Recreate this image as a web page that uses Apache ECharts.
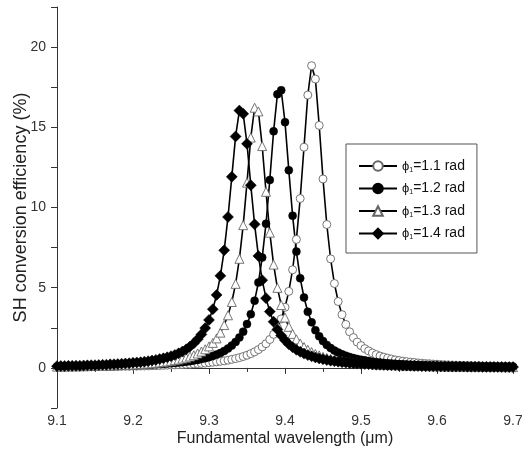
<!DOCTYPE html>
<html>
<head>
<meta charset="utf-8">
<script src="https://cdn.jsdelivr.net/npm/echarts@6/dist/echarts.min.js"></script>
<style>
  html, body { margin: 0; padding: 0; background: #fff; }
  #chart { width: 522px; height: 470px; }
</style>
</head>
<body>
<div id="chart"></div>
<script>
// wavelength samples (um), 0.005 step
var wavelength = [
  9.100, 9.105, 9.110, 9.115, 9.120, 9.125, 9.130, 9.135, 9.140, 9.145,
  9.150, 9.155, 9.160, 9.165, 9.170, 9.175, 9.180, 9.185, 9.190, 9.195,
  9.200, 9.205, 9.210, 9.215, 9.220, 9.225, 9.230, 9.235, 9.240, 9.245,
  9.250, 9.255, 9.260, 9.265, 9.270, 9.275, 9.280, 9.285, 9.290, 9.295,
  9.300, 9.305, 9.310, 9.315, 9.320, 9.325, 9.330, 9.335, 9.340, 9.345,
  9.350, 9.355, 9.360, 9.365, 9.370, 9.375, 9.380, 9.385, 9.390, 9.395,
  9.400, 9.405, 9.410, 9.415, 9.420, 9.425, 9.430, 9.435, 9.440, 9.445,
  9.450, 9.455, 9.460, 9.465, 9.470, 9.475, 9.480, 9.485, 9.490, 9.495,
  9.500, 9.505, 9.510, 9.515, 9.520, 9.525, 9.530, 9.535, 9.540, 9.545,
  9.550, 9.555, 9.560, 9.565, 9.570, 9.575, 9.580, 9.585, 9.590, 9.595,
  9.600, 9.605, 9.610, 9.615, 9.620, 9.625, 9.630, 9.635, 9.640, 9.645,
  9.650, 9.655, 9.660, 9.665, 9.670, 9.675, 9.680, 9.685, 9.690, 9.695, 9.700
];

// SH conversion efficiency (%) for each phi1
var eff11 = [
  0.05, 0.06, 0.06, 0.06, 0.06, 0.06, 0.07, 0.07, 0.07, 0.07,
  0.07, 0.08, 0.08, 0.08, 0.09, 0.09, 0.09, 0.10, 0.10, 0.10,
  0.11, 0.11, 0.12, 0.12, 0.13, 0.14, 0.14, 0.15, 0.16, 0.17,
  0.18, 0.19, 0.20, 0.21, 0.22, 0.23, 0.25, 0.27, 0.28, 0.30,
  0.33, 0.35, 0.38, 0.41, 0.44, 0.48, 0.53, 0.58, 0.64, 0.71,
  0.79, 0.89, 1.00, 1.14, 1.31, 1.51, 1.77, 2.09, 2.51, 3.05,
  3.78, 4.77, 6.12, 8.01, 10.56, 13.76, 17.01, 18.84, 18.01, 15.12,
  11.78, 8.94, 6.80, 5.26, 4.14, 3.32, 2.71, 2.25, 1.89, 1.61,
  1.39, 1.20, 1.06, 0.93, 0.83, 0.74, 0.67, 0.61, 0.55, 0.50,
  0.46, 0.42, 0.39, 0.36, 0.34, 0.31, 0.29, 0.27, 0.26, 0.24,
  0.23, 0.21, 0.20, 0.19, 0.18, 0.17, 0.16, 0.15, 0.15, 0.14,
  0.13, 0.13, 0.12, 0.12, 0.11, 0.11, 0.10, 0.10, 0.09, 0.09, 0.09
];
var eff12 = [
  0.07, 0.07, 0.07, 0.08, 0.08, 0.08, 0.09, 0.09, 0.09, 0.10,
  0.10, 0.11, 0.11, 0.11, 0.12, 0.13, 0.13, 0.14, 0.14, 0.15,
  0.16, 0.17, 0.18, 0.19, 0.20, 0.21, 0.22, 0.24, 0.25, 0.27,
  0.29, 0.31, 0.33, 0.36, 0.39, 0.42, 0.46, 0.50, 0.55, 0.60,
  0.67, 0.74, 0.83, 0.93, 1.06, 1.21, 1.39, 1.62, 1.90, 2.26,
  2.73, 3.35, 4.19, 5.32, 6.88, 8.99, 11.72, 14.75, 17.06, 17.31,
  15.32, 12.32, 9.49, 7.25, 5.59, 4.39, 3.50, 2.84, 2.35, 1.97,
  1.67, 1.43, 1.24, 1.08, 0.96, 0.85, 0.76, 0.68, 0.61, 0.56,
  0.51, 0.47, 0.43, 0.39, 0.36, 0.34, 0.31, 0.29, 0.27, 0.26,
  0.24, 0.23, 0.21, 0.20, 0.19, 0.18, 0.17, 0.16, 0.15, 0.15,
  0.14, 0.13, 0.13, 0.12, 0.12, 0.11, 0.11, 0.10, 0.10, 0.09,
  0.09, 0.09, 0.08, 0.08, 0.08, 0.08, 0.07, 0.07, 0.07, 0.07, 0.06
];
var eff13 = [
  0.08, 0.08, 0.09, 0.09, 0.10, 0.10, 0.10, 0.11, 0.11, 0.12,
  0.12, 0.13, 0.14, 0.14, 0.15, 0.16, 0.17, 0.18, 0.19, 0.20,
  0.21, 0.22, 0.24, 0.26, 0.27, 0.29, 0.32, 0.34, 0.37, 0.40,
  0.44, 0.48, 0.52, 0.58, 0.64, 0.71, 0.79, 0.90, 1.02, 1.16,
  1.34, 1.56, 1.84, 2.20, 2.67, 3.28, 4.11, 5.24, 6.80, 8.90,
  11.55, 14.36, 16.22, 15.99, 13.83, 10.98, 8.43, 6.44, 4.99, 3.92,
  3.14, 2.56, 2.12, 1.78, 1.52, 1.30, 1.13, 0.99, 0.87, 0.78,
  0.69, 0.62, 0.56, 0.51, 0.47, 0.43, 0.39, 0.36, 0.34, 0.31,
  0.29, 0.27, 0.25, 0.24, 0.22, 0.21, 0.20, 0.19, 0.18, 0.17,
  0.16, 0.15, 0.14, 0.14, 0.13, 0.12, 0.12, 0.11, 0.11, 0.10,
  0.10, 0.10, 0.09, 0.09, 0.08, 0.08, 0.08, 0.08, 0.07, 0.07,
  0.07, 0.07, 0.06, 0.06, 0.06, 0.06, 0.06, 0.05, 0.05, 0.05, 0.05
];
var eff14 = [
  0.11, 0.12, 0.12, 0.13, 0.13, 0.14, 0.14, 0.15, 0.16, 0.17,
  0.17, 0.18, 0.19, 0.20, 0.22, 0.23, 0.24, 0.26, 0.28, 0.29,
  0.32, 0.34, 0.36, 0.39, 0.42, 0.46, 0.50, 0.55, 0.60, 0.66,
  0.73, 0.81, 0.91, 1.02, 1.16, 1.33, 1.53, 1.78, 2.09, 2.48,
  2.99, 3.66, 4.55, 5.74, 7.33, 9.41, 11.91, 14.43, 16.04, 15.84,
  13.97, 11.39, 8.95, 6.98, 5.47, 4.35, 3.51, 2.88, 2.40, 2.02,
  1.72, 1.48, 1.29, 1.13, 1.00, 0.89, 0.80, 0.72, 0.65, 0.59,
  0.54, 0.49, 0.45, 0.42, 0.39, 0.36, 0.33, 0.31, 0.29, 0.27,
  0.26, 0.24, 0.23, 0.21, 0.20, 0.19, 0.18, 0.17, 0.16, 0.16,
  0.15, 0.14, 0.14, 0.13, 0.12, 0.12, 0.11, 0.11, 0.11, 0.10,
  0.10, 0.09, 0.09, 0.09, 0.08, 0.08, 0.08, 0.08, 0.07, 0.07,
  0.07, 0.07, 0.06, 0.06, 0.06, 0.06, 0.06, 0.06, 0.05, 0.05, 0.05
];

var seriesNames = ['1.1 rad', '1.2 rad', '1.3 rad', '1.4 rad'];
var xTicks = ['9.1', '9.2', '9.3', '9.4', '9.5', '9.6', '9.7'];
var yTicks = ['0', '5', '10', '15', '20'];

var FONT = '"Liberation Sans", Arial, sans-serif';

function pairs(ys) {
  var out = [];
  for (var i = 0; i < wavelength.length; i++) out.push([wavelength[i], ys[i]]);
  return out;
}

function makeSeries(name, ys, symbol, size, filled) {
  return {
    name: name,
    type: 'line',
    data: pairs(ys),
    symbol: symbol,
    symbolSize: size,
    showSymbol: true,
    lineStyle: { color: '#000', width: 1.6 },
    itemStyle: filled
      ? { color: '#000', borderColor: '#000', borderWidth: 0.5 }
      : { color: '#fff', borderColor: '#666', borderWidth: 0.9 },
    emphasis: { disabled: true },
    animation: false
  };
}

var chart = echarts.init(document.getElementById('chart'));
chart.setOption({
  backgroundColor: '#fff',
  animation: false,
  // fixed plot box, don't let the axis name push it around
  grid: { left: 57, right: 9, top: 7, bottom: 62, containLabel: false, outerBoundsMode: 'none' },
  legend: {
    orient: 'vertical',
    left: 346,
    top: 144,
    padding: [15, 12, 12, 12],
    itemGap: 8,
    itemWidth: 38,
    itemHeight: 12,
    borderColor: '#555',
    borderWidth: 1,
    data: seriesNames,
    formatter: function (name) {
      return '{p|\u03d5}{s|1}{t|=' + name + '}';
    },
    textStyle: {
      color: '#111',
      fontFamily: FONT,
      fontSize: 14,
      rich: {
        p: { fontSize: 13, fontFamily: FONT, color: '#111' },
        s: { fontSize: 7, fontFamily: FONT, color: '#111', verticalAlign: 'bottom', padding: [8, 0, 0, 0] },
        t: { fontSize: 14, fontFamily: FONT, color: '#111' }
      }
    }
  },
  xAxis: {
    type: 'value',
    min: 9.1,
    max: 9.7,
    interval: 0.1,
    name: 'Fundamental wavelength (\u03bcm)',
    nameLocation: 'middle',
    nameGap: 23,
    nameMoveOverlap: false,
    nameTextStyle: { fontFamily: FONT, fontSize: 16, color: '#222' },
    axisLine: { lineStyle: { color: '#333', width: 1 } },
    axisTick: { length: 6, lineStyle: { color: '#333' } },
    minorTick: { show: true, splitNumber: 2, length: 4, lineStyle: { color: '#333' } },
    splitLine: { show: false },
    axisLabel: {
      margin: 6,
      fontFamily: FONT,
      fontSize: 14,
      color: '#333',
      formatter: function (v) {
        var s = v.toFixed(1);
        return xTicks.indexOf(s) >= 0 ? s : '';
      }
    }
  },
  yAxis: {
    type: 'value',
    min: -2.5,
    max: 22.5,
    interval: 2.5,
    name: 'SH conversion efficiency (%)',
    nameLocation: 'middle',
    nameGap: 27,
    nameMoveOverlap: false,
    nameTextStyle: { fontFamily: FONT, fontSize: 18, color: '#222' },
    axisLine: { show: true, lineStyle: { color: '#333', width: 1 } },
    axisTick: { show: true, length: 6, lineStyle: { color: '#333' } },
    splitLine: { show: false },
    axisLabel: {
      margin: 11,
      fontFamily: FONT,
      fontSize: 14,
      color: '#333',
      formatter: function (v) {
        var s = String(Math.round(v * 10) / 10);
        return yTicks.indexOf(s) >= 0 ? s : '';
      }
    }
  },
  series: [
    makeSeries(seriesNames[0], eff11, 'circle', 8, false),
    makeSeries(seriesNames[1], eff12, 'circle', 8, true),
    makeSeries(seriesNames[2], eff13, 'triangle', 9, false),
    makeSeries(seriesNames[3], eff14, 'diamond', 11, true)
  ]
});
</script>
</body>
</html>
